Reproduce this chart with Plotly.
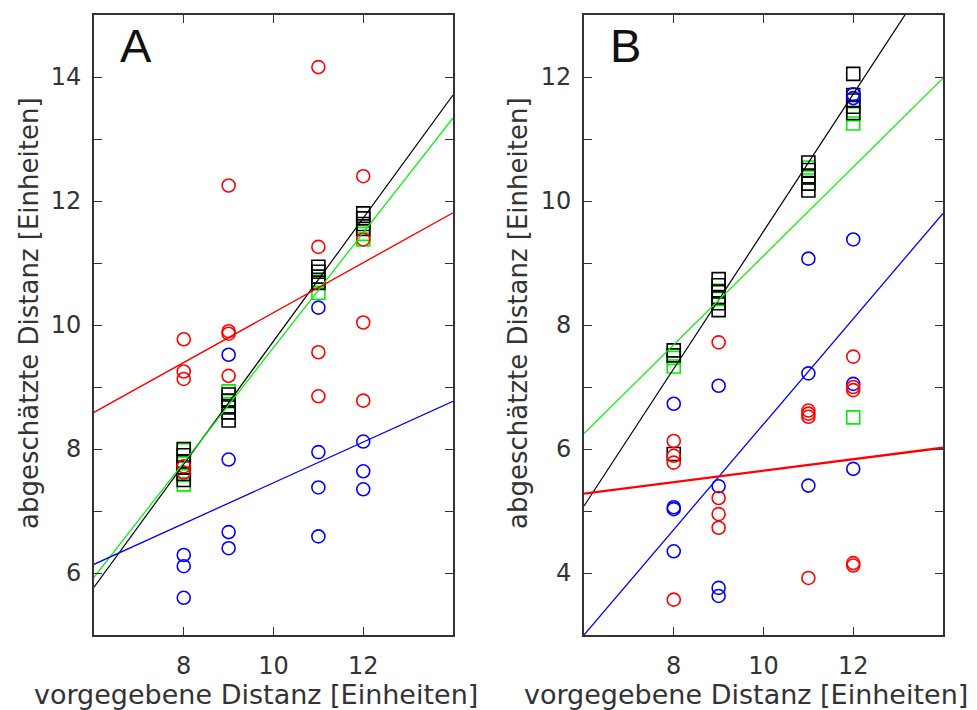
import plotly.graph_objects as go

# ---------------- Panel A data ----------------
a_red_x = [8, 8, 8, 8, 8, 9, 9, 9, 9, 11, 11, 11, 11, 12, 12, 12, 12]
a_red_y = [9.77, 9.25, 9.13, 7.72, 7.62, 12.25, 9.90, 9.86, 9.18,
           14.16, 11.26, 9.56, 8.85, 12.40, 11.38, 10.04, 8.78]

a_blue_x = [8, 8, 8, 9, 9, 9, 9, 11, 11, 11, 11, 12, 12, 12]
a_blue_y = [6.29, 6.11, 5.60, 9.52, 7.83, 6.66, 6.40,
            10.28, 7.95, 7.38, 6.59, 8.12, 7.64, 7.35]

a_black_x = [8, 8, 8, 8, 8, 8, 9, 9, 9, 9, 9, 11, 11, 11, 11, 12, 12, 12, 12]
a_black_y = [8.00, 7.90, 7.80, 7.70, 7.60, 7.50, 8.88, 8.78, 8.69, 8.59, 8.46,
             10.94, 10.86, 10.78, 10.68, 11.80, 11.72, 11.63, 11.55]

a_green_x = [8, 8, 8, 8, 9, 9, 9, 11, 11, 12, 12]
a_green_y = [7.98, 7.77, 7.58, 7.43, 8.93, 8.77, 8.59, 10.70, 10.52, 11.47, 11.38]

# regression lines, value at the two ends of the x range
fit_x = [6, 14]
a_fit_black = [5.77, 13.71]
a_fit_green = [5.93, 13.34]
a_fit_blue = [6.14, 8.77]
a_fit_red = [8.59, 11.81]

# ---------------- Panel B data ----------------
b_red_x = [8, 8, 8, 8, 9, 9, 9, 9, 11, 11, 11, 11, 12, 12, 12, 12, 12]
b_red_y = [6.13, 5.89, 5.78, 3.57, 7.72, 5.21, 4.95, 4.73,
           6.62, 6.57, 6.52, 3.92, 7.49, 7.00, 6.95, 4.16, 4.12]

b_blue_x = [8, 8, 8, 8, 9, 9, 9, 9, 11, 11, 11, 12, 12, 12, 12, 12]
b_blue_y = [6.73, 5.06, 5.03, 4.35, 7.02, 5.40, 3.76, 3.63,
            9.07, 7.22, 5.41, 11.72, 11.66, 9.38, 7.05, 5.68]

b_black_x = [8, 8, 8, 9, 9, 9, 9, 9, 9, 11, 11, 11, 11, 11, 12, 12, 12, 12, 12]
b_black_y = [7.59, 7.51, 5.92, 8.74, 8.64, 8.54, 8.45, 8.35, 8.24,
             10.62, 10.50, 10.40, 10.28, 10.17, 12.05, 11.71, 11.62, 11.52, 11.42]

b_green_x = [8, 8, 9, 9, 11, 11, 12, 12, 12]
b_green_y = [7.47, 7.33, 8.55, 8.42, 10.54, 10.38, 11.40, 11.25, 6.51]

b_fit_black = [5.08, 13.94]
b_fit_green = [6.25, 11.98]
b_fit_blue = [3.00, 9.80]
b_fit_red = [5.28, 6.02]

# axis ticks
x_ticks = [8, 10, 12]
a_y_ticks = [6, 7, 8, 9, 10, 11, 12, 13, 14]
a_y_labels = ["6", "", "8", "", "10", "", "12", "", "14"]
b_y_ticks = [4, 5, 6, 7, 8, 9, 10, 11, 12]
b_y_labels = ["4", "", "6", "", "8", "", "10", "", "12"]

x_title = "vorgegebene Distanz [Einheiten]"
y_title = "abgeschätzte Distanz [Einheiten]"

W, H = 977, 710
RED, BLUE, GREEN, BLACK = "#ff0000", "#0000ff", "#00f000", "#000000"
FONT = "DejaVu Sans"

fig = go.Figure()


def add_panel(xa, ya, red, blue, black, green, fits, red_w):
    def sq(x, y, c):
        fig.add_trace(go.Scatter(
            x=x, y=y, mode="markers", xaxis=xa, yaxis=ya, showlegend=False,
            marker=dict(symbol="square-open", size=13, color=c,
                        line=dict(width=1.6, color=c))))

    def ci(x, y, c):
        fig.add_trace(go.Scatter(
            x=x, y=y, mode="markers", xaxis=xa, yaxis=ya, showlegend=False,
            marker=dict(symbol="circle-open", size=13, color=c,
                        line=dict(width=1.6, color=c))))

    sq(*green, GREEN)
    sq(*black, BLACK)
    ci(*blue, BLUE)
    ci(*red, RED)
    for ys, c, w in zip(fits, [BLACK, GREEN, BLUE, RED], [1.2, 1.2, 1.3, red_w]):
        fig.add_trace(go.Scatter(
            x=fit_x, y=ys, mode="lines", xaxis=xa, yaxis=ya, showlegend=False,
            line=dict(color=c, width=w)))


add_panel("x", "y", (a_red_x, a_red_y), (a_blue_x, a_blue_y),
          (a_black_x, a_black_y), (a_green_x, a_green_y),
          [a_fit_black, a_fit_green, a_fit_blue, a_fit_red], 1.4)
add_panel("x2", "y2", (b_red_x, b_red_y), (b_blue_x, b_blue_y),
          (b_black_x, b_black_y), (b_green_x, b_green_y),
          [b_fit_black, b_fit_green, b_fit_blue, b_fit_red], 2.4)

tick_font = dict(family=FONT, size=24, color="#333333")
common = dict(showline=True, linecolor="#333333", linewidth=1.6, mirror="ticks",
              ticks="inside", ticklen=8, tickwidth=1.4, tickcolor="#333333",
              showgrid=False, zeroline=False, tickfont=tick_font)

y0, y1 = 1 - 635 / H, 1 - 15 / H
fig.update_layout(
    width=W, height=H,
    margin=dict(l=0, r=0, t=0, b=0),
    paper_bgcolor="white", plot_bgcolor="white",
    xaxis=dict(domain=[94 / W, 453 / W], range=[6, 14], tickvals=x_ticks,
               anchor="y", ticklabelstandoff=8, **common),
    yaxis=dict(domain=[y0, y1], range=[5, 15], tickvals=a_y_ticks,
               ticktext=a_y_labels, anchor="x", ticklabelstandoff=6, **common),
    xaxis2=dict(domain=[584 / W, 943 / W], range=[6, 14], tickvals=x_ticks,
                anchor="y2", ticklabelstandoff=8, **common),
    yaxis2=dict(domain=[y0, y1], range=[3, 13], tickvals=b_y_ticks,
                ticktext=b_y_labels, anchor="x2", ticklabelstandoff=6, **common),
)

ann = []
for cx in (256 / W, 746 / W):
    ann.append(dict(text=x_title, x=cx, y=1 - 694 / H, xref="paper", yref="paper",
                    xanchor="center", yanchor="middle", showarrow=False,
                    font=dict(family=FONT, size=27, color="#333333")))
for cx in (29 / W, 518 / W):
    ann.append(dict(text=y_title, x=cx, y=1 - 313 / H, xref="paper", yref="paper",
                    xanchor="center", yanchor="middle", textangle=-90,
                    showarrow=False,
                    font=dict(family=FONT, size=26, color="#333333")))
for letter, lx in (("A", 118 / W), ("B", 608 / W)):
    ann.append(dict(text=letter, x=lx, y=1 - 45 / H, xref="paper", yref="paper",
                    xanchor="left", yanchor="middle", showarrow=False,
                    font=dict(family="Liberation Sans", size=47, color="#111111")))
fig.update_layout(annotations=ann)

fig.write_html("out.html")
